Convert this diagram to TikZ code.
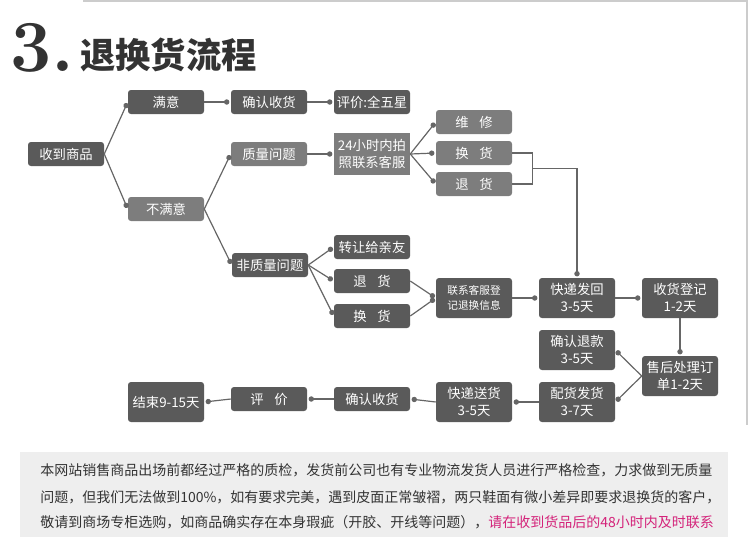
\documentclass[tikz,border=0pt]{standalone}
\usepackage{fontspec}
\usepackage{tikz}
\usetikzlibrary{calc,arrows.meta}
\newfontfamily\cjk{Noto Sans CJK SC}
\definecolor{dunkel}{HTML}{5A5A5A}
\definecolor{hell}{HTML}{7D7D7D}
\definecolor{linie}{HTML}{666666}
\definecolor{rahmen}{HTML}{CCCCCC}
\definecolor{grund}{HTML}{EEEEEE}
\definecolor{schrift}{HTML}{333333}
\definecolor{rosa}{HTML}{D4237A}
\tikzset{
		>={Circle[length=4pt]},
		darkbox/.style={
			rectangle,
			rounded corners=2.2pt,
			fill=dunkel,
			text=white,
			font=\cjk\fontsize{10}{12.75}\selectfont,
			minimum width=57pt,
			minimum height=18pt,
			inner sep=1pt,
			align=center},
		lightbox/.style={darkbox, fill=hell},
		tall/.style={minimum height=30pt},
		line/.style={draw=linie, line width=0.9pt, ->, shorten >=1pt},
		plain/.style={draw=linie, line width=0.9pt},
		hinweis/.style={anchor=west, inner sep=0pt, text=schrift,
			font=\cjk\fontsize{10.5}{12}\selectfont},
	}

\begin{document}
\begin{tikzpicture}[x=0.75pt, y=-0.75pt]
	\useasboundingbox (0,0) rectangle (750,537);
	\draw[rahmen, line width=0.8pt] (83,1) -- (747,1) -- (747,425);
	
	%% Titel
	\node[anchor=base west, inner sep=0pt, text=schrift] (nummer) at (10,71)
		{\fontsize{55}{55}\selectfont\bfseries 3.};
	\node[anchor=base west, inner sep=0pt, text=schrift] (titel) at (80,68)
		{\cjk\bfseries\fontsize{26.5}{28}\selectfont 退换货流程};
	
	\node[darkbox] (shoudao) at (66,154) {收到商品};
	\node[darkbox] (manyi) at (166,102) {满意};
	\node[lightbox] (bumanyi) at (166,209) {不满意};
	\node[darkbox] (queren) at (269,102) {确认收货};
	\node[lightbox] (zhiliang) at (269,154) {质量问题};
	\node[darkbox] (feizhiliang) at (270,265) {非质量问题};
	\node[darkbox] (pingjia) at (372,102) {评价:全五星};
	\node[lightbox, rounded corners=0pt, minimum height=32pt] (kefu) at (372,154) {24小时内拍\\照联系客服};
	\node[lightbox] (weixiu) at (474,122) {维\hspace{.8em}修};
	\node[lightbox] (huan) at (474,153) {换\hspace{.8em}货};
	\node[lightbox] (tui) at (474,184) {退\hspace{.8em}货};
	\node[darkbox] (zhuanrang) at (372,247) {转让给亲友};
	\node[darkbox] (tui2) at (372,281) {退\hspace{.8em}货};
	\node[darkbox] (huan2) at (372,316) {换\hspace{.8em}货};
	\node[darkbox, tall, font=\cjk\fontsize{8}{11.5}\selectfont] (dengji) at (474,298) {联系客服登\\记退换信息};
	\node[darkbox, tall] (fahui) at (577,298) {快递发回\\3-5天};
	\node[darkbox, tall] (shouhuo) at (680,298) {收货登记\\1-2天};
	\node[darkbox, tall] (tuikuan) at (577,350) {确认退款\\3-5天};
	\node[darkbox, tall] (shouhou) at (680,376) {售后处理订\\单1-2天};
	\node[darkbox, tall] (peihuo) at (577,402) {配货发货\\3-7天};
	\node[darkbox, tall] (songhuo) at (474,402) {快递送货\\3-5天};
	\node[darkbox] (queren2) at (372,399) {确认收货};
	\node[darkbox] (pingjia2) at (269,399) {评\hspace{.8em}价};
	\node[darkbox, tall] (jieshu) at (166,402) {结束9-15天};
	
	\draw[line] (shoudao.east) -- (manyi.west);
	\draw[line] (shoudao.east) -- (bumanyi.west);
	\draw[line] (manyi.east) -- (queren.west);
	\draw[line] (queren.east) -- (pingjia.west);
	\draw[line] (bumanyi.east) -- (zhiliang.west);
	\draw[line] (bumanyi.east) -- (feizhiliang.west);
	\draw[line] (zhiliang.east) -- (kefu.west);
	\foreach \n in {weixiu,huan,tui}
		\draw[line] (kefu.east) -- (\n.west);
	\foreach \n in {zhuanrang,tui2,huan2}
		\draw[line] (feizhiliang.east) -- (\n.west);
	\foreach \n in {tui2,huan2}
		\draw[line] (\n.east) -- (dengji.west);
	\draw[line] (dengji.east) -- (fahui.west);
	\draw[line] (fahui.east) -- (shouhuo.west);
	\draw[line] (shouhuo.south) -- (shouhou.north);
	\draw[line] (shouhou.west) -- (tuikuan.east);
	\draw[line] (shouhou.west) -- (peihuo.east);
	\draw[line] (peihuo.west) -- (songhuo.east);
	\draw[line] (songhuo.west) -- (queren2.east);
	\draw[line] (queren2.west) -- (pingjia2.east);
	\draw[line] (pingjia2.west) -- (jieshu.east);
	
	%% Klammer: huan + tui -> fahui
	\coordinate (klammer) at ($(huan.east)!.5!(tui.east)+(20,0)$);
	\draw[plain] (huan.east) -| (klammer) |- (tui.east);
	\draw[line] (klammer) -| (fahui.north);
	
	%% Hinweis unten
	\fill[grund] (20,452) rectangle (728,537);
	\node[hinweis] (zeile1) at (40,470) {本网站销售商品出场前都经过严格的质检，发货前公司也有专业物流发货人员进行严格检查，力求做到无质量};
	\node[hinweis] (zeile2) at (40,497) {问题，但我们无法做到100\%，如有要求完美，遇到皮面正常皱褶，两只鞋面有微小差异即要求退换货的客户，};
	\node[hinweis] (zeile3) at (40,522) {敬请到商场专柜选购，如商品确实存在本身瑕疵（开胶、开线等问题），\textcolor{rosa}{请在收到货品后的48小时内及时联系}};
\end{tikzpicture}
\end{document}
